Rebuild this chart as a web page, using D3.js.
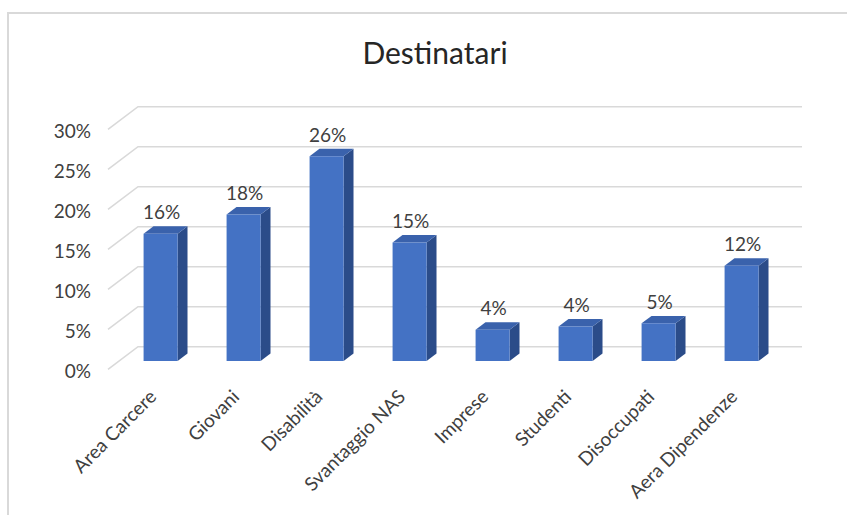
<!DOCTYPE html>
<html>
<head>
<meta charset="utf-8">
<script src="https://cdn.jsdelivr.net/npm/d3@7"></script>
<style>
  html, body { margin: 0; padding: 0; background: #fff; }
  svg { display: block; font-family: Lato, "Open Sans", sans-serif; }
</style>
</head>
<body>
<svg id="chart" width="847" height="515"></svg>
<script>
// Destinatari: share of beneficiaries per target group
const categories = ["Area Carcere", "Giovani", "Disabilità", "Svantaggio NAS", "Imprese", "Studenti", "Disoccupati", "Aera Dipendenze"];
const values = [0.159, 0.183, 0.256, 0.148, 0.039, 0.043, 0.047, 0.119];
const yTicks = [0, 0.05, 0.10, 0.15, 0.20, 0.25, 0.30];
const title = "Destinatari";

const svg = d3.select("#chart");

// outer frame
svg.append("rect")
  .attr("x", 8).attr("y", 13)
  .attr("width", 860).attr("height", 520)
  .attr("fill", "#fff")
  .attr("stroke", "#d9d9d9").attr("stroke-width", 2);

// oblique projection: depth 0 = front edge of the floor, 1 = back wall
const depth = { dx: 30, dy: -22.6 };
const floorY = 369.3;

const x = d3.scaleBand()
  .domain(categories)
  .range([108, 772])
  .paddingInner(0.59)
  .paddingOuter(0.295);

const y = d3.scaleLinear().domain([0, 0.30]).range([0, 240]);

function P(px, v, d) {
  return [px + depth.dx * d, floorY - y(v) + depth.dy * d];
}

// gridlines on the side wall and back wall
const grid = svg.append("g").attr("stroke", "#d9d9d9").attr("stroke-width", 1.6).attr("fill", "none");
yTicks.forEach(t => {
  const a = P(x.range()[0], t, 0), b = P(x.range()[0], t, 1), c = P(x.range()[1], t, 1);
  grid.append("path").attr("d", d3.line()([a, b, c]));
});

// y axis labels
const fmt = d3.format(".0%");
svg.append("g")
  .selectAll("text")
  .data(yTicks)
  .join("text")
  .attr("x", 91)
  .attr("y", t => P(x.range()[0], t, 0)[1] + 2)
  .attr("dy", "0.35em")
  .attr("text-anchor", "end")
  .attr("font-size", 19)
  .attr("fill", "#404040")
  .text(fmt);

// 3D columns
const d0 = 0.37, d1 = 0.70;
const colors = { front: "#4472c4", side: "#2b4c89", top: "#3a62ac" };
const poly = pts => "M" + pts.map(p => p.join(",")).join("L") + "Z";
const bars = svg.append("g");
categories.forEach((c, i) => {
  const v = values[i];
  const xl = x(c), xr = x(c) + x.bandwidth();
  const g = bars.append("g");
  // side face
  g.append("path")
    .attr("d", poly([P(xr, 0, d0), P(xr, 0, d1), P(xr, v, d1), P(xr, v, d0)]))
    .attr("fill", colors.side);
  // top face
  g.append("path")
    .attr("d", poly([P(xl, v, d0), P(xr, v, d0), P(xr, v, d1), P(xl, v, d1)]))
    .attr("fill", colors.top);
  // front face
  g.append("path")
    .attr("d", poly([P(xl, 0, d0), P(xr, 0, d0), P(xr, v, d0), P(xl, v, d0)]))
    .attr("fill", colors.front);
  // value label
  const cx = (xl + xr) / 2 + depth.dx * d0;
  g.append("text")
    .attr("x", cx + 1)
    .attr("y", P(xl, v, d1)[1] - 7)
    .attr("text-anchor", "middle")
    .attr("font-size", 19)
    .attr("fill", "#404040")
    .text(fmt(v));
});

// category labels
svg.append("g")
  .selectAll("text")
  .data(categories)
  .join("text")
  .attr("transform", c => `translate(${x(c) + x.bandwidth() / 2 + depth.dx * d0 - 3},398) rotate(-45)`)
  .attr("text-anchor", "end")
  .attr("font-size", 19)
  .attr("fill", "#404040")
  .text(c => c);

// title
svg.append("text")
  .attr("x", 435).attr("y", 64)
  .attr("text-anchor", "middle")
  .attr("font-size", 30)
  .attr("fill", "#262626")
  .text(title);
</script>
</body>
</html>
